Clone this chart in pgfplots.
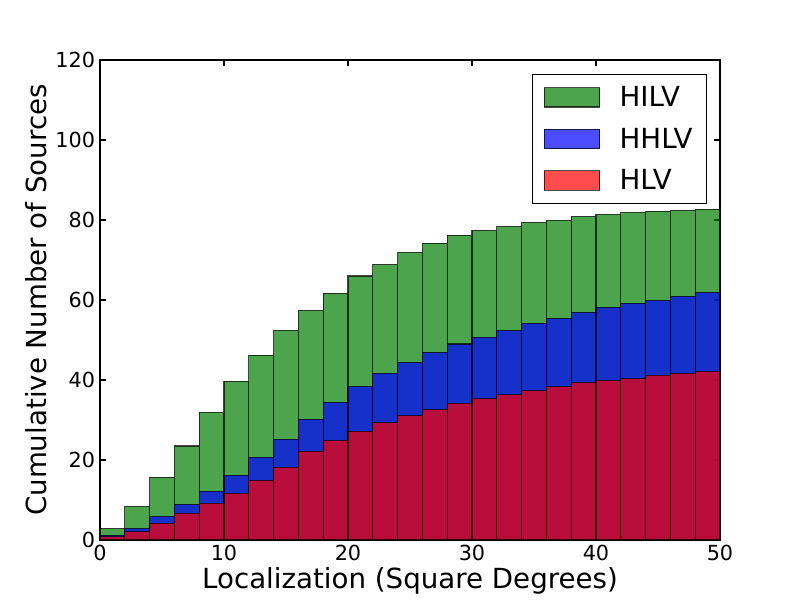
\documentclass[border=0pt]{standalone}
\usepackage{pgfplots}
\pgfplotsset{compat=1.18}
\usepackage{fontspec}
\setmainfont{DejaVu Sans}
\begin{document}
\begin{tikzpicture}
\useasboundingbox[fill=white] (0,0) rectangle (8in,6in);
\begin{axis}[
  at={(1in,0.6in)}, anchor=south west,
  scale only axis, width=6.2in, height=4.8in,
  xmin=0, xmax=50, ymin=0, ymax=120,
  xtick={0,10,20,30,40,50}, ytick={0,20,40,60,80,100,120},
  /pgf/number format/assume math mode=true,
  tick label style={font=\fontsize{15}{18}\selectfont},
  tick align=inside, major tick length=4.3pt,
  every tick/.style={black, line width=0.8pt},
  axis line style={line width=0.8pt},
  xlabel={Localization (Square Degrees)},
  ylabel={Cumulative Number of Sources},
  label style={font=\fontsize{20}{24}\selectfont},
  xlabel style={at={(axis description cs:0.5,-0.1)}, anchor=base},
  ylabel style={at={(axis description cs:-0.0855,0.5)}, anchor=base, rotate=0},
  legend style={at={(0.979,0.971)}, anchor=north east, draw=black, line width=0.8pt,
    font=\fontsize{20}{24}\selectfont, inner xsep=8pt, inner ysep=6.5pt,
    row sep=10pt, column sep=12pt, cells={anchor=west}},
  legend cell align=left,
  legend image code/.code={\draw[#1, line width=0.8pt] (0pt,-7pt) rectangle (40pt,7pt);},
]
\addplot[ybar interval, fill={rgb,255:red,0;green,128;blue,0}, fill opacity=0.7, draw=black, draw opacity=0.7, line width=0.8pt]
 coordinates {(0,2.9) (2,8.4) (4,15.7) (6,23.5) (8,31.9) (10,39.7) (12,46.2) (14,52.4) (16,57.4) (18,61.7) (20,66.0) (22,68.9) (24,71.9) (26,74.2) (28,76.2) (30,77.4) (32,78.4) (34,79.4) (36,79.9) (38,80.9) (40,81.4) (42,81.9) (44,82.2) (46,82.4) (48,82.7) (50,82.7)};
\addlegendentry{HILV}
\addplot[ybar interval, fill={rgb,255:red,0;green,0;blue,255}, fill opacity=0.7, draw=black, draw opacity=0.7, line width=0.8pt]
 coordinates {(0,1.2) (2,2.9) (4,5.9) (6,8.9) (8,12.2) (10,16.2) (12,20.7) (14,25.2) (16,30.2) (18,34.4) (20,38.4) (22,41.7) (24,44.4) (26,46.9) (28,49.0) (30,50.7) (32,52.4) (34,54.2) (36,55.4) (38,56.9) (40,58.2) (42,59.2) (44,59.9) (46,60.9) (48,61.9) (50,61.9)};
\addlegendentry{HHLV}
\addplot[ybar interval, fill={rgb,255:red,255;green,0;blue,0}, fill opacity=0.7, draw=black, draw opacity=0.7, line width=0.8pt]
 coordinates {(0,0.8) (2,2.1) (4,4.2) (6,6.7) (8,9.2) (10,11.7) (12,14.9) (14,18.2) (16,22.2) (18,24.9) (20,27.2) (22,29.4) (24,31.1) (26,32.6) (28,34.2) (30,35.3) (32,36.3) (34,37.3) (36,38.3) (38,39.4) (40,39.9) (42,40.3) (44,41.2) (46,41.7) (48,42.2) (50,42.2)};
\addlegendentry{HLV}
\end{axis}
\end{tikzpicture}
\end{document}
